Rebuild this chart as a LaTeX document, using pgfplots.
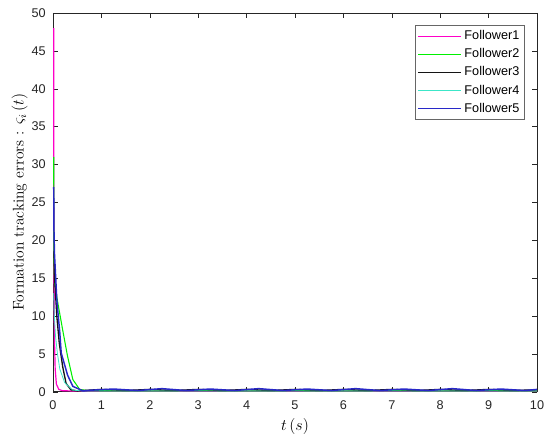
\documentclass[border=0pt]{standalone}
\usepackage{fontspec}
\usepackage{pgfplots}
\pgfplotsset{compat=1.18}
\newfontfamily\arial{Liberation Sans}
\definecolor{fone}{RGB}{255,0,200}
\definecolor{ftwo}{RGB}{0,240,0}
\definecolor{fthree}{RGB}{20,20,20}
\definecolor{ffour}{RGB}{60,230,200}
\definecolor{ffive}{RGB}{40,40,200}
\definecolor{axgray}{RGB}{38,38,38}

\begin{document}
\begin{tikzpicture}
\begin{axis}[
 name=ax,
 scale only axis,width=363pt,height=284pt,
 xmin=0,xmax=10,ymin=0,ymax=50,
 xtick={0,1,...,10},ytick={0,5,...,50},
 axis line style={axgray},tick style={axgray},
 major tick length=3.8pt,
 tick label style={font=\arial\fontsize{9.5}{11}\selectfont,text=axgray},
 xticklabel style={yshift=-3pt},
 yticklabel style={xshift=-2pt},
 /pgf/number format/assume math mode=true,
 xlabel={$t\,(s)$},
 ylabel={Formation tracking errors : $\varsigma_i\,(t)$},
 label style={font=\fontsize{11.6}{13}\selectfont},
 ylabel style={yshift=-4pt},
 legend style={at={(1,1)},xshift=-9pt,yshift=-9pt,anchor=north east,
  draw=gray!80!black,fill=white,font=\arial\fontsize{9.5}{11}\selectfont,
  row sep=1.2pt,inner xsep=2pt,inner ysep=2pt},
 legend cell align=left,
 legend image code/.code={\draw[#1] plot coordinates {(0pt,0pt) (16pt,0pt) (32pt,0pt)};},
]
\addplot[fone,line width=0.9pt] coordinates {
(0.015,48) (0.016,36) (0.018,26) (0.022,15) (0.03,7) (0.045,3) (0.07,1) (0.12,0.3) (0.2,0.12)
(0.5,0.08) (1,0.1) (2,0.08) (3,0.1) (4,0.08) (5,0.1) (6,0.08) (7,0.1) (8,0.08) (9,0.1) (10,0.08)};
\addplot[ftwo,line width=0.8pt] coordinates {
(0.015,31) (0.018,22) (0.022,16) (0.035,14.3) (0.1,11.7) (0.21,7.8) (0.3,4.7) (0.41,1.6) (0.55,0.3) (0.7,0.15)
(1,0.12) (2,0.1) (3,0.14) (4,0.1) (5,0.13) (6,0.1) (7,0.14) (8,0.1) (9,0.13) (10,0.1)};
\addplot[fthree,line width=1pt] coordinates {
(0.015,18.5) (0.02,18.5) (0.04,14.3) (0.08,9.9) (0.13,6.4) (0.2,3.3) (0.27,1.1) (0.37,0.25) (0.5,0.1)
(0.75,0.2) (1,0.3) (1.5,0.15) (2,0.3) (2.5,0.15) (3,0.3) (3.5,0.15) (4,0.3) (4.5,0.15) (5,0.3)
(5.5,0.15) (6,0.3) (6.5,0.15) (7,0.3) (7.5,0.15) (8,0.3) (8.5,0.15) (9,0.3) (9.5,0.15) (10,0.25)};
\addplot[ffour,line width=0.6pt] coordinates {
(0.015,13) (0.025,10.4) (0.05,7.5) (0.09,5.1) (0.14,3) (0.24,1.2) (0.41,0.2) (0.6,0.1)
(1,0.08) (2,0.1) (3,0.08) (4,0.1) (5,0.08) (6,0.1) (7,0.08) (8,0.1) (9,0.08) (10,0.1)};
\addplot[ffive,line width=1.1pt] coordinates {
(0.015,27) (0.018,22) (0.03,18.3) (0.08,12) (0.14,7.8) (0.17,5.1) (0.22,4) (0.3,2.2) (0.41,0.7) (0.62,0.1)
(0.8,0.2) (1.25,0.35) (1.75,0.15) (2.25,0.4) (2.75,0.15) (3.25,0.35) (3.75,0.15) (4.25,0.4) (4.75,0.15)
(5.25,0.35) (5.75,0.15) (6.25,0.4) (6.75,0.15) (7.25,0.35) (7.75,0.15) (8.25,0.4) (8.75,0.15)
(9.25,0.35) (9.75,0.15) (10,0.3)};
\legend{Follower1,Follower2,Follower3,Follower4,Follower5}
\end{axis}
\path (ax.south west) ++(-39.75pt,-39pt);
\path (ax.north east) ++(9.75pt,9.75pt);
\end{tikzpicture}
\end{document}
